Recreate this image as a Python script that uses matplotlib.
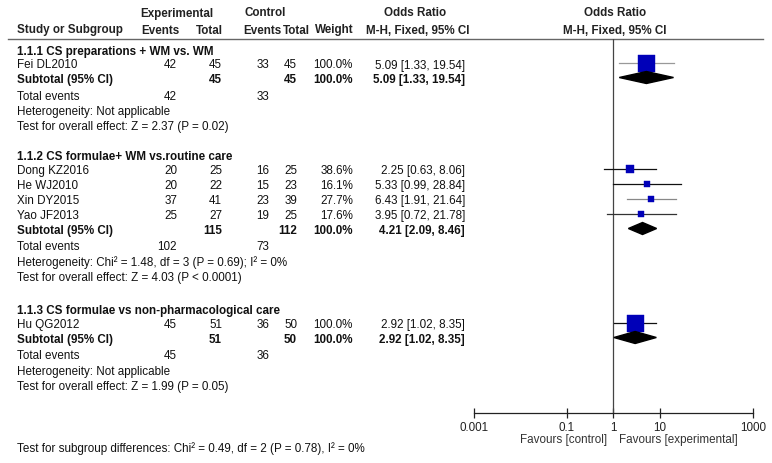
import matplotlib
matplotlib.use("Agg")
import matplotlib.pyplot as plt
from matplotlib.patches import Polygon
from matplotlib.ticker import FixedLocator, FixedFormatter, NullLocator

plt.rcParams['font.family'] = ['Liberation Sans', 'DejaVu Sans']

# study level data
studies = ["Fei DL2010", "Dong KZ2016", "He WJ2010", "Xin DY2015", "Yao JF2013", "Hu QG2012"]
study_group = [0, 1, 1, 1, 1, 2]
exp_events = [42, 20, 20, 37, 25, 45]
exp_total = [45, 25, 22, 41, 27, 51]
ctrl_events = [33, 16, 15, 23, 19, 36]
ctrl_total = [45, 25, 23, 39, 25, 50]
weights = [100.0, 38.6, 16.1, 27.7, 17.6, 100.0]
odds = [5.09, 2.25, 5.33, 6.43, 3.95, 2.92]
ci_low = [1.33, 0.63, 0.99, 1.91, 0.72, 1.02]
ci_high = [19.54, 8.06, 28.84, 21.64, 21.78, 8.35]

# subgroup data
group_titles = ["1.1.1 CS preparations + WM vs. WM",
                "1.1.2 CS formulae+ WM vs.routine care",
                "1.1.3 CS formulae vs non-pharmacological care"]
sub_exp_events = [42, 102, 45]
sub_exp_total = [45, 115, 51]
sub_ctrl_events = [33, 73, 36]
sub_ctrl_total = [45, 112, 50]
sub_weight = [100.0, 100.0, 100.0]
sub_or = [5.09, 4.21, 2.92]
sub_low = [1.33, 2.09, 1.02]
sub_high = [19.54, 8.46, 8.35]
heterogeneity = ["Heterogeneity: Not applicable",
                 "Heterogeneity: Chi\u00b2 = 1.48, df = 3 (P = 0.69); I\u00b2 = 0%",
                 "Heterogeneity: Not applicable"]
overall_effect = ["Test for overall effect: Z = 2.37 (P = 0.02)",
                  "Test for overall effect: Z = 4.03 (P < 0.0001)",
                  "Test for overall effect: Z = 1.99 (P = 0.05)"]
subgroup_diff = "Test for subgroup differences: Chi\u00b2 = 0.49, df = 2 (P = 0.78), I\u00b2 = 0%"

tick_values = [0.001, 0.1, 1, 10, 1000]
tick_labels = ["0.001", "0.1", "1", "10", "1000"]

# layout (pixels, y downward)
W, H = 772, 464
FS = 8.4
group_y = [50, 156, 310]
col_x = [177, 222, 269, 297, 353, 465]
ci_colors = ["#999999", "#111111", "#111111", "#888888", "#333333", "#111111"]
blue = "#0000b8"

fig = plt.figure(figsize=(W / 100, H / 100), dpi=100)
tx = fig.add_axes([0, 0, 1, 1])
tx.set_xlim(0, W)
tx.set_ylim(H, 0)
tx.axis("off")

ax_left, ax_right, ax_top, ax_bot = 474, 753, 40, 414
ax = fig.add_axes([ax_left / W, (H - ax_bot) / H, (ax_right - ax_left) / W, (ax_bot - ax_top) / H])
ax.set_xscale("log")
ax.set_xlim(0.001, 1000)
ax.set_ylim(ax_bot, ax_top)
ax.patch.set_alpha(0)
for s in ["top", "right", "left"]:
    ax.spines[s].set_visible(False)
ax.spines["bottom"].set_color("#222222")
ax.spines["bottom"].set_linewidth(0.9)
ax.xaxis.set_major_locator(FixedLocator(tick_values))
ax.xaxis.set_major_formatter(FixedFormatter(tick_labels))
ax.xaxis.set_minor_locator(NullLocator())
ax.yaxis.set_major_locator(NullLocator())
ax.tick_params(axis="x", direction="inout", length=7, width=0.9, color="#222222",
               labelsize=FS, labelcolor="#222222", pad=2)
ax.axvline(1, color="#444444", lw=0.9)


def txt(x, y, s, ha="left", bold=False, color="#111111"):
    tx.text(x, y + 1.5, s, ha=ha, va="center", fontsize=FS,
            fontweight="bold" if bold else "normal", color=color)


# headers
hb = dict(bold=True, color="#222222")
txt(177, 12, "Experimental", ha="center", **hb)
txt(265, 12, "Control", ha="center", **hb)
txt(415, 12, "Odds Ratio", ha="center", **hb)
txt(615, 12, "Odds Ratio", ha="center", **hb)
txt(17, 29, "Study or Subgroup", **hb)
txt(180, 29, "Events", ha="right", **hb)
txt(223, 29, "Total", ha="right", **hb)
txt(281, 29, "Events", ha="right", **hb)
txt(310, 29, "Total", ha="right", **hb)
txt(354, 29, "Weight", ha="right", **hb)
txt(470, 29, "M-H, Fixed, 95% CI", ha="right", **hb)
txt(615, 29, "M-H, Fixed, 95% CI", ha="center", **hb)
tx.plot([8, 763], [40, 40], color="#666666", lw=1)

for g, title in enumerate(group_titles):
    y = group_y[g]
    txt(17, y, title, bold=True)
    y += 14
    for i in [k for k in range(len(studies)) if study_group[k] == g]:
        txt(17, y, studies[i])
        vals = [str(exp_events[i]), str(exp_total[i]), str(ctrl_events[i]),
                str(ctrl_total[i]), f"{weights[i]:.1f}%",
                f"{odds[i]:.2f} [{ci_low[i]:.2f}, {ci_high[i]:.2f}]"]
        for x, v in zip(col_x, vals):
            txt(x, y, v, ha="right")
        ax.plot([ci_low[i], ci_high[i]], [y, y], color=ci_colors[i], lw=0.9, zorder=2)
        side = (3 + 14 * weights[i] / 100) * 0.72
        ax.plot([odds[i]], [y], marker="s", ms=side, color=blue, mec=blue, mew=0.3,
                ls="none", zorder=3)
        y += 15
    y -= 0.5
    txt(17, y, "Subtotal (95% CI)", bold=True)
    sub_vals = [str(sub_exp_total[g]), str(sub_ctrl_total[g]), f"{sub_weight[g]:.1f}%",
                f"{sub_or[g]:.2f} [{sub_low[g]:.2f}, {sub_high[g]:.2f}]"]
    for x, v in zip(col_x[1:2] + col_x[3:], sub_vals):
        txt(x, y, v, ha="right", bold=True)
    ax.add_patch(Polygon([(sub_low[g], y), (sub_or[g], y - 6), (sub_high[g], y),
                          (sub_or[g], y + 6)], closed=True, color="black", zorder=4))
    y += 16.5
    txt(17, y, "Total events")
    txt(col_x[0], y, str(sub_exp_events[g]), ha="right")
    txt(col_x[2], y, str(sub_ctrl_events[g]), ha="right")
    y += 15.5
    txt(17, y, heterogeneity[g])
    y += 15
    txt(17, y, overall_effect[g])

txt(17, 447, subgroup_diff)
txt(607, 439, "Favours [control]", ha="right", color="#333333")
txt(619, 439, "Favours [experimental]", ha="left", color="#333333")

fig.savefig("out.png", dpi=100)
